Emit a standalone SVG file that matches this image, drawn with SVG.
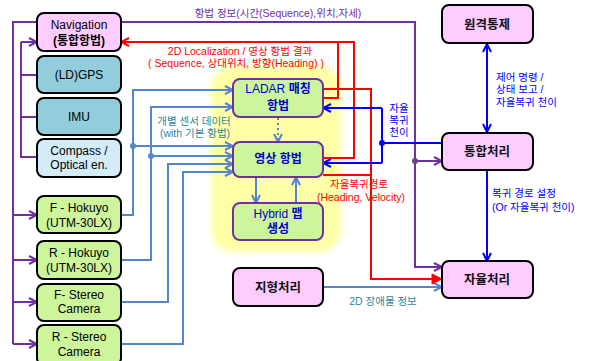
<svg xmlns="http://www.w3.org/2000/svg" width="589" height="361" viewBox="0 0 589 361">
<defs>
<style>
.nd{stroke:#000;stroke-width:2}
.pk{fill:#ffccff}
.tl{fill:#92cddc}
.lb{fill:#d3ecf8}
.gr{fill:#ccf59c}
.cn{fill:#ccf59c;stroke:#7030a0;stroke-width:2}
text{font-family:"Liberation Sans","Noto Sans CJK KR",sans-serif;text-anchor:middle}
.t12{font-size:12px;fill:#000}
.tb{font-size:12.5px;font-weight:bold;fill:#111}
.tc{font-size:12px;fill:#0000cc}
.tcb{font-size:12px;fill:#0000cc;font-weight:bold}
.lab{font-size:10.5px}
.c{fill:none;stroke-width:2}
.pu{stroke:#7030a0}
.sb{stroke:#5585cc}
.rd{stroke:#ff0000}
.bl{stroke:#0000ff}
</style>
<marker id="ap" markerUnits="userSpaceOnUse" markerWidth="10" markerHeight="10" refX="9" refY="5" orient="auto-start-reverse"><path d="M1,1 L9,5 L1,9" fill="none" stroke="#7030a0" stroke-width="2"/></marker>
<marker id="as" markerUnits="userSpaceOnUse" markerWidth="10" markerHeight="10" refX="9" refY="5" orient="auto-start-reverse"><path d="M1,1 L9,5 L1,9" fill="none" stroke="#5585cc" stroke-width="2"/></marker>
<marker id="ar" markerUnits="userSpaceOnUse" markerWidth="10" markerHeight="10" refX="9" refY="5" orient="auto-start-reverse"><path d="M1,1 L9,5 L1,9" fill="none" stroke="#ff0000" stroke-width="2"/></marker>
<marker id="arb" markerUnits="userSpaceOnUse" markerWidth="12" markerHeight="12" refX="11" refY="6" orient="auto"><path d="M1,1 L11,6 L1,11 Z" fill="#ff0000" stroke="#ff0000" stroke-width="1"/></marker>
<marker id="ab" markerUnits="userSpaceOnUse" markerWidth="10" markerHeight="10" refX="9" refY="5" orient="auto-start-reverse"><path d="M1,1 L9,5 L1,9" fill="none" stroke="#0000ff" stroke-width="2"/></marker>
<filter id="glow" x="-20%" y="-20%" width="140%" height="140%"><feGaussianBlur stdDeviation="3"/></filter>
</defs>
<rect width="589" height="361" fill="#ffffff"/>
<rect x="211" y="66" width="130" height="186" rx="22" fill="#ffffa6" filter="url(#glow)"/>

<g id="connectors">
<path class="c pu" d="M37,22 H13 V344"/>
<path class="c pu" d="M13,215 H37" marker-end="url(#ap)"/>
<path class="c pu" d="M13,260 H37" marker-end="url(#ap)"/>
<path class="c pu" d="M13,302 H37" marker-end="url(#ap)"/>
<path class="c pu" d="M13,344 H37" marker-end="url(#ap)"/>
<path class="c pu" d="M37,75 H21 M37,117 H21 M37,157 H21 V42"/>
<path class="c pu" d="M21,42 H37" marker-end="url(#ap)"/>
<path class="c pu" d="M121,22 H415 V267 H442" marker-end="url(#ap)"/>
<path class="c pu" d="M415,161 H442" marker-end="url(#ap)"/>
<circle cx="415" cy="161" r="3" fill="#604a7b"/>
<path class="c sb" d="M121,215 H133 V90 H233" marker-end="url(#as)"/>
<path class="c sb" d="M133,146 H233" marker-end="url(#as)"/>
<path class="c sb" d="M121,260 H151 V107 H233" marker-end="url(#as)"/>
<path class="c sb" d="M151,156 H233" marker-end="url(#as)"/>
<path class="c sb" d="M121,302 H168 V164 H233" marker-end="url(#as)"/>
<path class="c sb" d="M121,344 H183 V172 H233" marker-end="url(#as)"/>
<circle cx="133" cy="146" r="3" fill="#5585cc"/>
<circle cx="151" cy="156" r="3" fill="#5585cc"/>
<path class="c sb" d="M278,118 V142" stroke-dasharray="2,3" marker-end="url(#as)"/>
<path class="c sb" d="M256,177 V203" marker-end="url(#as)"/>
<path class="c sb" d="M296,203 V177" marker-end="url(#as)"/>
<path class="c sb" d="M323,287 H442" marker-end="url(#as)"/>
<path class="c rd" d="M323,98 H338 V42 H121" marker-end="url(#ar)"/>
<path class="c rd" d="M323,158 H354 V42 H338"/>
<path class="c rd" d="M323,175 H371"/>
<path class="c rd" d="M323,89 H371 V279"/>
<path class="c rd" d="M370,279 H442" stroke-width="3.5" marker-end="url(#arb)"/>
<path class="c bl" d="M487,44 V132" marker-start="url(#ab)" marker-end="url(#ab)"/>
<path class="c bl" d="M442,143 H382 M382,108 V163"/>
<path class="c bl" d="M382,108 H323" marker-end="url(#ab)"/>
<path class="c bl" d="M382,163 H323" marker-end="url(#ab)"/>
<circle cx="382" cy="143" r="3" fill="#0000ff"/>
<path class="c bl" d="M487,170 V261" marker-end="url(#ab)"/>
</g>

<g id="labels">
<text class="lab" x="278" y="17" fill="#7030a0">항법 정보(시간(Sequence),위치,자세)</text>
<text class="lab" x="240" y="55" fill="#ff0000">2D Localization / 영상 항법 결과</text>
<text class="lab" x="236" y="67" fill="#ff0000">( Sequence, 상대위치, 방향(Heading) )</text>
<text class="lab" x="194" y="125" fill="#31849b">개별 센서 데이터</text>
<text class="lab" x="195" y="137" fill="#31849b">(with 기본 항법)</text>
<text class="lab" x="399" y="112" fill="#0000ff">자율</text>
<text class="lab" x="399" y="124" fill="#0000ff">복귀</text>
<text class="lab" x="399" y="136" fill="#0000ff">천이</text>
<text class="lab" x="359" y="188" fill="#ff0000">자율복귀경로</text>
<text class="lab" x="361" y="201" fill="#ff0000">(Heading, Velocity)</text>
<text class="lab" x="496" y="81" fill="#0000ff" style="text-anchor:start">제어 명령 /</text>
<text class="lab" x="496" y="93" fill="#0000ff" style="text-anchor:start">상태 보고 /</text>
<text class="lab" x="496" y="106" fill="#0000ff" style="text-anchor:start">자율복귀 천이</text>
<text class="lab" x="492" y="197" fill="#0000ff" style="text-anchor:start">복귀 경로 설정</text>
<text class="lab" x="492" y="211" fill="#0000ff" style="text-anchor:start">(Or 자율복귀 천이)</text>
<text class="lab" x="383" y="305" fill="#31849b">2D 장애물 정보</text>
</g>

<g id="nav"><rect class="nd pk" x="37" y="13" width="84" height="38" rx="7"/><text class="t12" x="79" y="29">Navigation</text><text class="t12" x="79" y="45" font-weight="bold">(통합항법)</text></g>
<g id="gps"><rect class="nd tl" x="37" y="56" width="84" height="37" rx="7"/><text class="t12" x="79" y="79">(LD)GPS</text></g>
<g id="imu"><rect class="nd tl" x="37" y="98" width="84" height="37" rx="7"/><text class="t12" x="79" y="121">IMU</text></g>
<g id="compass"><rect class="nd lb" x="37" y="139" width="84" height="38" rx="7"/><text class="t12" x="79" y="155">Compass /</text><text class="t12" x="79" y="169">Optical en.</text></g>
<g id="fhokuyo"><rect class="nd gr" x="37" y="196" width="84" height="37" rx="7"/><text class="t12" x="79" y="212">F - Hokuyo</text><text class="t12" x="79" y="227">(UTM-30LX)</text></g>
<g id="rhokuyo"><rect class="nd gr" x="37" y="241" width="84" height="38" rx="7"/><text class="t12" x="79" y="257">R - Hokuyo</text><text class="t12" x="79" y="272">(UTM-30LX)</text></g>
<g id="fstereo"><rect class="nd gr" x="37" y="284" width="84" height="37" rx="7"/><text class="t12" x="79" y="299">F- Stereo</text><text class="t12" x="79" y="313">Camera</text></g>
<g id="rstereo"><rect class="nd gr" x="37" y="325" width="84" height="40" rx="7"/><text class="t12" x="79" y="341">R - Stereo</text><text class="t12" x="79" y="356">Camera</text></g>

<g id="ladar"><rect class="cn" x="233" y="79" width="90" height="38" rx="7"/><text class="tc" x="278" y="93">LADAR <tspan font-weight="bold">매칭</tspan></text><text class="tcb" x="278" y="110">항법</text></g>
<g id="vision"><rect class="cn" x="233" y="142" width="90" height="35" rx="7"/><text class="tcb" x="278" y="163">영상 항법</text></g>
<g id="hybrid"><rect class="cn" x="233" y="203" width="90" height="37" rx="7"/><text class="tc" x="278" y="218">Hybrid <tspan font-weight="bold">맵</tspan></text><text class="tcb" x="278" y="233">생성</text></g>
<g id="terrain"><rect class="nd pk" x="233" y="268" width="90" height="38" rx="7"/><text class="tb" x="278" y="292">지형처리</text></g>

<g id="remote"><rect class="nd pk" x="442" y="5" width="91" height="38" rx="7"/><text class="tb" x="487" y="29">원격통제</text></g>
<g id="integ"><rect class="nd pk" x="442" y="133" width="91" height="37" rx="7"/><text class="tb" x="487" y="156">통합처리</text></g>
<g id="auto"><rect class="nd pk" x="442" y="261" width="91" height="37" rx="7"/><text class="tb" x="487" y="284">자율처리</text></g>
</svg>
